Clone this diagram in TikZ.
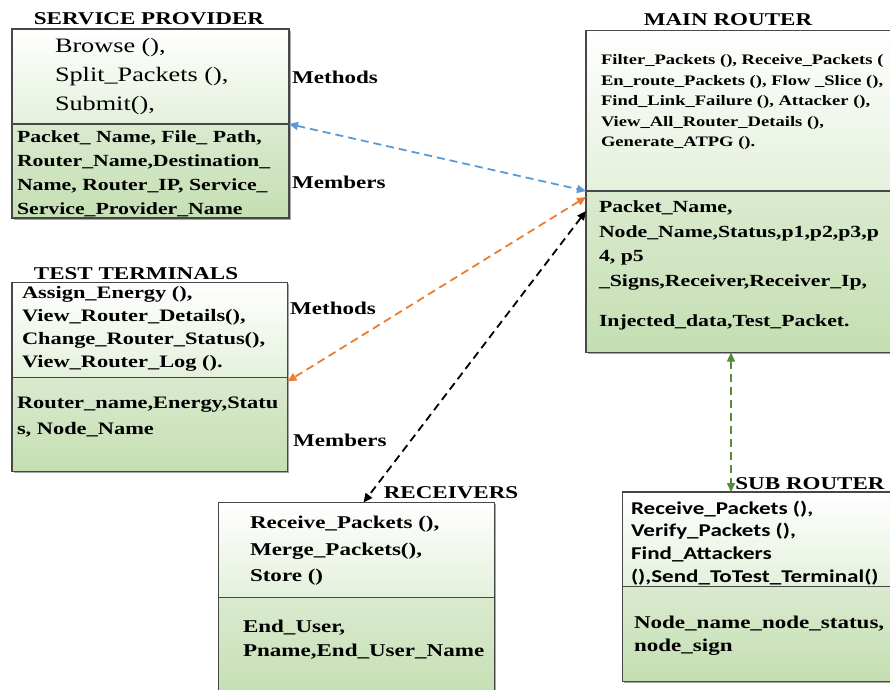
\documentclass[tikz,border=0pt]{standalone}
\usepackage{fontspec}
\setmainfont{Liberation Serif}[FakeStretch=1.28]
\newfontfamily\calib{Carlito}[FakeStretch=1.28]
\usetikzlibrary{arrows.meta,shadows}
\definecolor{gA}{RGB}{228,240,220}
\definecolor{gB}{RGB}{218,234,207}
\definecolor{gC}{RGB}{196,223,178}
\definecolor{lblue}{RGB}{91,155,213}
\definecolor{lorange}{RGB}{237,125,49}
\definecolor{lgreen}{RGB}{88,138,58}
\tikzset{
  box/.style={draw=black!72, line width=1.1pt, anchor=north west, inner sep=0pt, outer sep=0pt,
    drop shadow={shadow xshift=1.5pt, shadow yshift=-1.5pt, fill=black, opacity=0.35}},
  mpart/.style={box, top color=white, bottom color=gA},
  apart/.style={box, top color=gB, bottom color=gC},
  txt/.style={anchor=north west, align=left, inner sep=0pt, outer sep=0pt},
  ttl/.style={inner sep=0pt, font=\fontsize{18}{20}\selectfont\bfseries},
  lbl/.style={anchor=west, inner sep=0pt, font=\fontsize{18}{20}\selectfont\bfseries},
  link/.style={dash pattern=on 8pt off 5pt, line width=1.8pt,
    {Triangle[length=9pt,width=8pt]}-{Triangle[length=9pt,width=8pt]}}
}
\begin{document}
\begin{tikzpicture}[x=1pt,y=-1pt]
\useasboundingbox (0,0) rectangle (890,689);

% ---------- boxes ----------
\node[mpart, minimum width=277pt, minimum height=95pt] (spm) at (12,29) {};
\node[apart, minimum width=277pt, minimum height=94pt] (spa) at (12,124) {};

\node[mpart, minimum width=310pt, minimum height=160.5pt] (mrm) at (586,30.5) {};
\node[apart, minimum width=310pt, minimum height=161.5pt] (mra) at (586,191) {};

\node[mpart, minimum width=275.5pt, minimum height=95pt] (ttm) at (12,282.5) {};
\node[apart, minimum width=275.5pt, minimum height=94pt] (tta) at (12,377.5) {};

\node[mpart, minimum width=276pt, minimum height=95pt] (rcm) at (218.5,502.5) {};
\node[apart, minimum width=276pt, minimum height=100pt] (rca) at (218.5,597.5) {};

\node[mpart, minimum width=275pt, minimum height=94.5pt] (srm) at (622.5,492) {};
\node[apart, minimum width=275pt, minimum height=95pt] (sra) at (622.5,586.5) {};

% ---------- titles ----------
\node[ttl] (spt) at (149,19) {SERVICE PROVIDER};
\node[ttl] (mrt) at (728,19.5) {MAIN ROUTER};
\node[ttl] (ttt) at (136,273.5) {TEST TERMINALS};
\node[ttl] (rct) at (451,493) {RECEIVERS};
\node[ttl] (srt) at (810,483.5) {SUB ROUTER};

% ---------- side labels ----------
\node[lbl] (spml) at (292,77.5) {Methods};
\node[lbl] (spal) at (292,182.5) {Members};
\node[lbl] (ttml) at (290,308) {Methods};
\node[lbl] (ttal) at (293,440) {Members};

% ---------- texts ----------
\node[txt, font=\fontsize{20.5}{29}\selectfont] (spmt) at (55,38.4)
  {Browse (),\\Split\_Packets (),\\Submit(),};
\node[txt, font=\fontsize{17}{24}\selectfont\bfseries] (spat) at (17,130.7)
  {Packet\_ Name, File\_ Path,\\Router\_Name,Destination\_\\Name, Router\_IP, Service\_\\Service\_Provider\_Name};

\node[txt, font=\fontsize{14.5}{20.5}\selectfont\bfseries] (mrmt) at (601,54.6)
  {Filter\_Packets (), Receive\_Packets (\\En\_route\_Packets (), Flow \_Slice (),\\Find\_Link\_Failure (), Attacker (),\\View\_All\_Router\_Details (),\\Generate\_ATPG ().};
\node[txt, font=\fontsize{17}{24.5}\selectfont\bfseries] (mrat) at (599,200.7)
  {Packet\_Name,\\Node\_Name,Status,p1,p2,p3,p\\4, p5\\\_Signs,Receiver,Receiver\_Ip,\\[15.5pt]Injected\_data,Test\_Packet.};

\node[txt, font=\fontsize{17.5}{23}\selectfont\bfseries] (ttmt) at (22,286.5)
  {Assign\_Energy (),\\View\_Router\_Details(),\\Change\_Router\_Status(),\\View\_Router\_Log ().};
\node[txt, font=\fontsize{17.5}{26}\selectfont\bfseries] (ttat) at (17,396.5)
  {Router\_name,Energy,Statu\\s, Node\_Name};

\node[txt, font=\fontsize{18}{26.5}\selectfont\bfseries] (rcmt) at (250,516.3)
  {Receive\_Packets (),\\Merge\_Packets(),\\Store ()};
\node[txt, font=\fontsize{18}{23.5}\selectfont\bfseries] (rcat) at (243,620)
  {End\_User,\\Pname,End\_User\_Name};

\node[txt, font=\fontsize{18}{22.7}\calib\selectfont\bfseries] (srmt) at (631,500.7)
  {Receive\_Packets (),\\Verify\_Packets (),\\Find\_Attackers\\(),Send\_ToTest\_Terminal()};
\node[txt, font=\fontsize{18}{23}\selectfont\bfseries] (srat) at (634,615.5)
  {Node\_name\_node\_status,\\node\_sign};

% ---------- connectors ----------
\draw[link, lblue] (spm.south east) -- (mrm.south west);
\draw[link, lorange] ([yshift=-6pt]mra.north west) -- ([yshift=-4pt]tta.north east);
\draw[link, black] ([yshift=-20pt]mra.north west) -- ([xshift=145pt]rcm.north west);
\draw[link, lgreen, line width=1.5pt] ([xshift=145pt]mra.south west) -- ([xshift=108.5pt]srm.north west);
\end{tikzpicture}
\end{document}
